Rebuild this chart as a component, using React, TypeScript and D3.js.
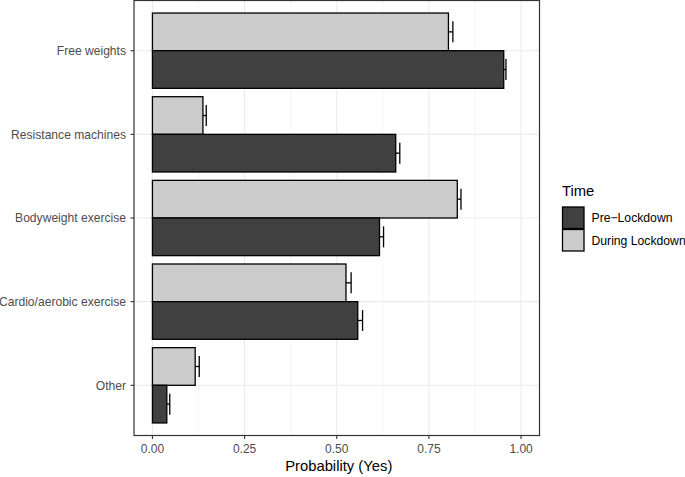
import React from "react";
import * as d3 from "d3";

const categories = ["Free weights", "Resistance machines", "Bodyweight exercise", "Cardio/aerobic exercise", "Other"];
const preValues = [0.953, 0.66, 0.616, 0.557, 0.039];
const preErrors = [0.006, 0.011, 0.011, 0.013, 0.008];
const duringValues = [0.803, 0.137, 0.827, 0.525, 0.116];
const duringErrors = [0.012, 0.009, 0.01, 0.014, 0.011];
const xTicks = [0, 0.25, 0.5, 0.75, 1];
const xMinor = [0.125, 0.375, 0.625, 0.875];
const seriesNames = ["Pre\u2212Lockdown", "During Lockdown"];
const seriesColors = ["#404040", "#cccccc"];

const W = 685;
const H = 477;
const panel = { left: 134, right: 539.5, top: 0.5, bottom: 435.5 };
const font = "'Liberation Sans', Arial, Helvetica, sans-serif";

export default function App() {
  const x = d3.scaleLinear().domain([-0.05, 1.05]).range([panel.left, panel.right]);
  const y = d3.scalePoint<string>().domain(categories).range([panel.top, panel.bottom]).padding(0.6);
  const step = y.step();
  const half = step * 0.45;
  const capH = 21;

  const series = [
    { name: "during", values: duringValues, errors: duringErrors, color: seriesColors[1], offset: -half },
    { name: "pre", values: preValues, errors: preErrors, color: seriesColors[0], offset: 0 },
  ];

  return (
    <svg width={W} height={H} style={{ position: "absolute", left: 0, top: 0, background: "#fff" }} fontFamily={font}>
      <rect x={0} y={0} width={W} height={H} fill="#fff" />
      {/* grid */}
      {xMinor.map((t) => (
        <line key={"mn" + t} x1={x(t)} x2={x(t)} y1={panel.top} y2={panel.bottom} stroke="#f0f0f0" strokeWidth={0.6} />
      ))}
      {xTicks.map((t) => (
        <line key={"mj" + t} x1={x(t)} x2={x(t)} y1={panel.top} y2={panel.bottom} stroke="#ebebeb" strokeWidth={1.1} />
      ))}
      {categories.map((c) => (
        <line key={"hg" + c} x1={panel.left} x2={panel.right} y1={y(c)!} y2={y(c)!} stroke="#ebebeb" strokeWidth={1.1} />
      ))}
      {/* error bars (drawn beneath bars) */}
      {series.map((s) =>
        categories.map((c, i) => {
          const cy = y(c)! + s.offset + half / 2;
          const lo = x(s.values[i] - s.errors[i]);
          const hi = x(s.values[i] + s.errors[i]);
          return (
            <g key={s.name + "e" + c} stroke="#000" strokeWidth={1.3}>
              <line x1={lo} x2={hi} y1={cy} y2={cy} />
              <line x1={lo} x2={lo} y1={cy - capH / 2} y2={cy + capH / 2} />
              <line x1={hi} x2={hi} y1={cy - capH / 2} y2={cy + capH / 2} />
            </g>
          );
        })
      )}
      {/* bars */}
      {series.map((s) =>
        categories.map((c, i) => (
          <rect
            key={s.name + "b" + c}
            x={x(0)}
            y={y(c)! + s.offset}
            width={x(s.values[i]) - x(0)}
            height={half}
            fill={s.color}
            stroke="#000"
            strokeWidth={1.3}
          />
        ))
      )}
      {/* panel border */}
      <rect x={panel.left} y={panel.top} width={panel.right - panel.left} height={panel.bottom - panel.top} fill="none" stroke="#333" strokeWidth={1.2} />
      {/* x axis */}
      {xTicks.map((t) => (
        <g key={"xt" + t}>
          <line x1={x(t)} x2={x(t)} y1={panel.bottom} y2={panel.bottom + 3.5} stroke="#333" strokeWidth={1.1} />
          <text x={x(t)} y={453} textAnchor="middle" fontSize={12} fill="#4d4d4d">
            {d3.format(".2f")(t)}
          </text>
        </g>
      ))}
      <text x={(panel.left + panel.right) / 2 + 2} y={471} textAnchor="middle" fontSize={14.8} fill="#000">
        Probability (Yes)
      </text>
      {/* y axis */}
      {categories.map((c) => (
        <g key={"yt" + c}>
          <line x1={panel.left - 3.5} x2={panel.left} y1={y(c)!} y2={y(c)!} stroke="#333" strokeWidth={1.1} />
          <text x={126} y={y(c)! + 4.2} textAnchor="end" fontSize={12.1} fill="#4d4d4d">
            {c}
          </text>
        </g>
      ))}
      {/* legend */}
      <text x={562} y={196} fontSize={14.8} fill="#000">Time</text>
      {seriesNames.map((n, i) => (
        <g key={"lg" + n}>
          <rect x={562.5} y={207 + i * 22.5} width={21.5} height={21.5} fill={seriesColors[i]} stroke="#000" strokeWidth={1.3} />
          <text x={591.5} y={222.2 + i * 22.5} fontSize={12.2} fill="#000">
            {n}
          </text>
        </g>
      ))}
    </svg>
  );
}
